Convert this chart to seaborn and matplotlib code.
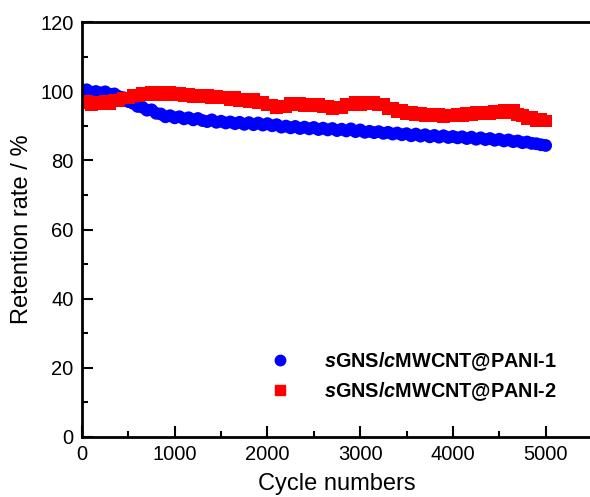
import numpy as np
import pandas as pd
import matplotlib
matplotlib.use("Agg")
import matplotlib.pyplot as plt
import seaborn as sns
from matplotlib.ticker import MultipleLocator

# cycle numbers, every 50 cycles
cycles = list(range(0, 5001, 50))

# retention (%)
pani1 = [100.1, 100.4, 99.7, 99.9, 99.5, 99.8, 99.1, 99.2, 98.4, 98.1,
         97.0, 96.5, 95.6, 95.4, 94.5, 94.6, 93.6, 93.4, 92.6, 92.9,
         92.3, 92.6, 92.0, 92.3, 91.7, 92.1, 91.5, 91.2, 91.7, 91.0,
         91.3, 90.8, 91.1, 90.6, 91.0, 90.4, 90.9, 90.3, 90.8, 90.2,
         90.6, 90.0, 90.3, 89.6, 89.9, 89.4, 89.8, 89.2, 89.6, 89.1,
         89.5, 88.9, 89.3, 88.8, 89.2, 88.6, 89.0, 88.5, 89.1, 88.3,
         88.8, 88.1, 88.4, 88.0, 88.3, 87.8, 88.1, 87.6, 87.9, 87.4,
         87.7, 87.1, 87.6, 87.0, 87.4, 86.8, 87.2, 86.7, 87.1, 86.6,
         86.9, 86.5, 86.8, 86.3, 86.7, 86.1, 86.5, 86.0, 86.3, 85.8,
         86.1, 85.6, 85.9, 85.4, 85.6, 85.1, 85.3, 84.9, 84.8, 84.5,
         84.3]
pani2 = [96.6, 97.0, 96.2, 96.7, 96.3, 96.9, 96.4, 97.2, 97.2, 98.0,
         98.0, 98.8, 98.7, 99.3, 98.9, 99.5, 99.1, 99.6, 99.1, 99.5,
         99.0, 99.3, 98.8, 99.1, 98.5, 98.9, 98.4, 98.7, 98.1, 98.5,
         98.0, 98.3, 97.7, 98.1, 97.3, 97.7, 97.1, 97.5, 96.7, 96.8,
         96.0, 96.0, 95.2, 95.6, 95.6, 96.6, 96.1, 96.5, 95.8, 96.3,
         95.8, 96.1, 95.4, 95.7, 95.1, 95.4, 95.3, 96.2, 96.1, 96.7,
         96.2, 96.8, 96.3, 96.8, 96.2, 96.3, 95.1, 95.0, 94.1, 94.3,
         93.6, 93.9, 93.3, 93.7, 93.0, 93.4, 92.8, 93.2, 92.6, 93.1,
         92.8, 93.4, 93.0, 93.6, 93.3, 93.9, 93.5, 94.0, 93.6, 94.2,
         93.8, 94.3, 93.9, 94.3, 93.3, 93.0, 92.0, 92.4, 91.5, 91.9,
         91.4]

labels = [r"$s$GNS/$c$MWCNT@PANI-1", r"$s$GNS/$c$MWCNT@PANI-2"]

df = pd.DataFrame({
    "cycle": cycles * 2,
    "retention": pani1 + pani2,
    "sample": [labels[0]] * len(cycles) + [labels[1]] * len(cycles),
})

sns.set_style("ticks")
plt.rcParams["font.family"] = ["Liberation Sans", "DejaVu Sans"]
plt.rcParams["mathtext.fontset"] = "custom"
plt.rcParams["mathtext.it"] = "Liberation Sans:italic:bold"
plt.rcParams["mathtext.rm"] = "Liberation Sans:bold"

fig = plt.figure(figsize=(5.9, 4.97), dpi=100)
ax = fig.add_axes([82 / 590, 60 / 497, 510 / 590, 415 / 497])

sns.scatterplot(x="cycle", y="retention", hue="sample", style="sample",
                data=df, palette=["#0000ff", "#ff0000"], markers=["o", "s"],
                s=85, linewidth=0, ax=ax, legend=False)

ax.set_xlim(0, 5500)
ax.set_ylim(0, 120)
ax.xaxis.set_major_locator(MultipleLocator(1000))
ax.xaxis.set_minor_locator(MultipleLocator(500))
ax.yaxis.set_major_locator(MultipleLocator(20))
ax.yaxis.set_minor_locator(MultipleLocator(10))
ax.tick_params(which="both", direction="in", width=1.5, labelsize=14.5,
               top=False, right=False, pad=6, color="black", labelcolor="black")
ax.tick_params(which="major", length=8)
ax.tick_params(which="minor", length=4)
for sp in ax.spines.values():
    sp.set_linewidth(2)
    sp.set_color("black")

ax.set_xlabel("Cycle numbers", fontsize=17, labelpad=6, color="black")
ax.set_ylabel("Retention rate / %", fontsize=17, labelpad=5, color="black")

h1 = plt.Line2D([], [], marker="o", color="#0000ff", linestyle="none", markersize=7.5)
h2 = plt.Line2D([], [], marker="s", color="#ff0000", linestyle="none", markersize=6.5)
ax.legend([h1, h2], labels, loc="center left", bbox_to_anchor=(0.315, 0.145),
          frameon=False, prop={"weight": "bold", "size": 14.3}, handletextpad=1.2,
          labelspacing=0.35, labelcolor="black")

fig.savefig("out.png", dpi=100)
